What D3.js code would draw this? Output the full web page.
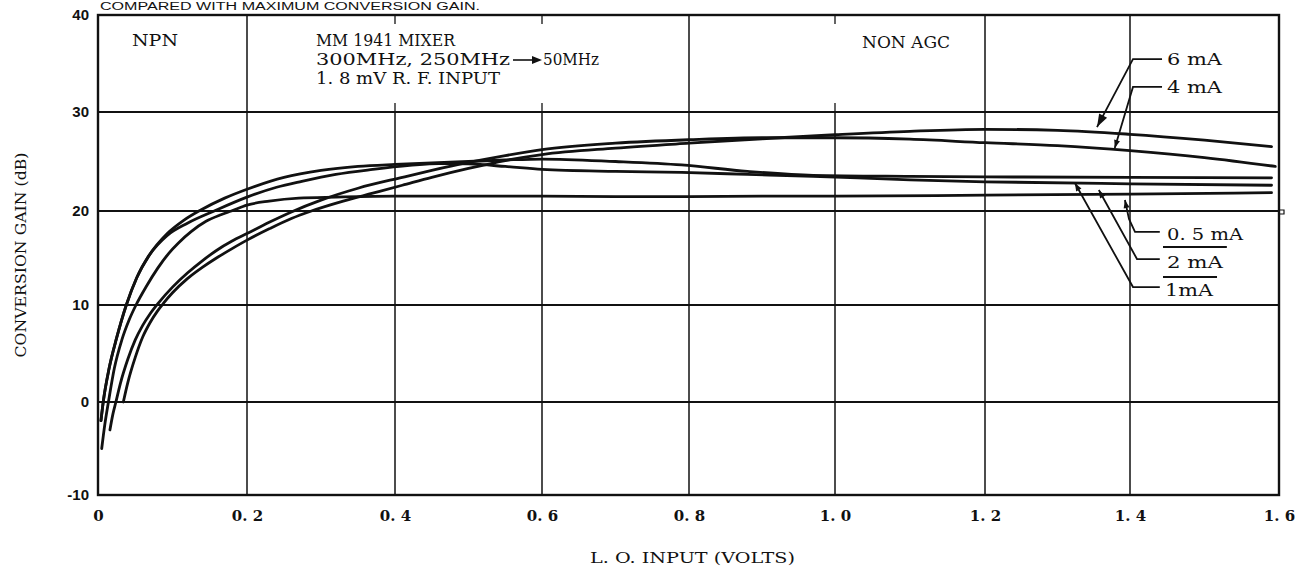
<!DOCTYPE html>
<html><head><meta charset="utf-8">
<script src="https://cdn.jsdelivr.net/npm/d3@7"></script>
<style>body{margin:0;background:#fff}svg{display:block}</style>
</head><body><svg id="c" width="1308" height="572"></svg>
<script>
// ---------- data ----------
const xTicks = [0, 0.2, 0.4, 0.6, 0.8, 1.0, 1.2, 1.4, 1.6];
const xTickLabels = ["0", "0. 2", "0. 4", "0. 6", "0. 8", "1. 0", "1. 2", "1. 4", "1. 6"];
const yTicks = [-10, 0, 10, 20, 30, 40];
const yTickLabels = ["-10", "0", "10", "20", "30", "40"];
const topBandLines = [0.2, 0.8, 1.2, 1.4];
const topBandStubs = [0.4, 0.6, 1.0];

const seriesNames = ["6 mA", "4 mA", "2 mA", "1mA", "0. 5 mA"];

const lo_6mA = [0.034, 0.04, 0.05, 0.06, 0.07, 0.08, 0.088, 0.1, 0.12, 0.14, 0.159, 0.18, 0.2, 0.23, 0.26, 0.287, 0.33, 0.37, 0.41, 0.45, 0.5, 0.55, 0.6, 0.7, 0.8, 0.9, 1.0, 1.1, 1.2, 1.3, 1.4, 1.5, 1.59];
const gain_6mA = [0, 2.0, 4.6, 6.7, 8.2, 9.4, 10.2, 11.3, 12.8, 14.0, 15.0, 16.0, 16.9, 18.1, 19.2, 20.0, 21.0, 21.8, 22.6, 23.4, 24.3, 25.1, 25.7, 26.35, 26.85, 27.3, 27.7, 28.05, 28.25, 28.15, 27.75, 27.15, 26.5];

const lo_4mA = [0.016, 0.02, 0.024, 0.03, 0.04, 0.05, 0.06, 0.07, 0.081, 0.1, 0.12, 0.14, 0.159, 0.18, 0.2, 0.23, 0.26, 0.3, 0.35, 0.41, 0.45, 0.5, 0.55, 0.6, 0.7, 0.8, 0.9, 1.0, 1.1, 1.2, 1.3, 1.4, 1.5, 1.595];
const gain_4mA = [-3, -1.3, 0, 1.9, 4.4, 6.4, 7.9, 9.1, 10.2, 11.9, 13.4, 14.7, 15.8, 16.8, 17.6, 18.8, 19.9, 21.1, 22.3, 23.4, 24.1, 24.9, 25.6, 26.2, 26.85, 27.2, 27.4, 27.4, 27.25, 26.9, 26.6, 26.1, 25.4, 24.5];

const lo_2mA = [0.004, 0.007, 0.015, 0.025, 0.038, 0.052, 0.068, 0.093, 0.12, 0.156, 0.2, 0.24, 0.274, 0.32, 0.37, 0.42, 0.46, 0.5, 0.55, 0.6, 0.7, 0.79, 0.88, 0.97, 1.1, 1.2, 1.4, 1.59];
const gain_2mA = [-2, 0, 3.5, 6.6, 10, 12.9, 15.2, 17.4, 18.7, 20.0, 21.4, 22.4, 23.0, 23.7, 24.2, 24.6, 24.8, 24.75, 24.5, 24.2, 24.0, 23.9, 23.7, 23.5, 23.15, 22.95, 22.75, 22.6];

const lo_1mA = [0.004, 0.007, 0.015, 0.025, 0.038, 0.052, 0.068, 0.093, 0.115, 0.138, 0.17, 0.2, 0.25, 0.3, 0.35, 0.4, 0.45, 0.5, 0.55, 0.6, 0.7, 0.79, 0.88, 0.97, 1.1, 1.2, 1.4, 1.59];
const gain_1mA = [-2, 0, 3.5, 6.6, 10, 12.9, 15.2, 17.6, 19.0, 20.1, 21.3, 22.2, 23.4, 24.1, 24.5, 24.7, 24.85, 25.0, 25.15, 25.25, 25.0, 24.65, 24.0, 23.6, 23.5, 23.45, 23.4, 23.35];

const lo_05mA = [0.005, 0.009, 0.014, 0.022, 0.032, 0.042, 0.051, 0.065, 0.08, 0.095, 0.108, 0.125, 0.145, 0.165, 0.179, 0.2, 0.23, 0.27, 0.32, 0.4, 0.5, 0.6, 0.7, 0.8, 0.9, 1.0, 1.2, 1.4, 1.59];
const gain_05mA = [-5, -2.5, 0, 3.5, 6.4, 8.5, 10, 12.0, 13.9, 15.5, 16.6, 17.8, 18.9, 19.6, 20.0, 20.6, 21.0, 21.3, 21.4, 21.5, 21.5, 21.5, 21.45, 21.45, 21.5, 21.5, 21.6, 21.7, 21.85];

// scanned-paper grid positions (the printed grid is slightly uneven)
const xGridPx = [98, 247, 395, 542, 689, 835, 985, 1130, 1279];
const yGridPx = [495, 402, 305, 211, 112, 15];

// annotation anchors in data units (volts, dB)
const labelPos = {"6 mA":[1.4497,34.85], "4 mA":[1.4497,31.96], "0. 5 mA":[1.4497,16.9], "2 mA":[1.4497,13.94], "1mA":[1.447,10.96]};
const leaders = {
  "6 mA":[[1.443,35.46],[1.404,35.46],[1.3545,28.48]],
  "4 mA":[[1.443,32.58],[1.404,32.58],[1.379,26.36]],
  "0. 5 mA":[[1.440,17.77],[1.4067,17.77],[1.3986,19.15],[1.393,21.11]],
  "2 mA":[[1.440,14.89],[1.4094,14.89],[1.357,22.12]],
  "1mA":[[1.440,11.91],[1.404,11.91],[1.324,22.83]]
};
const bars = [[[1.4443,16.17],[1.530,16.17]], [[1.4443,12.98],[1.5168,12.98]]];

// ---------- drawing ----------
const svg = d3.select("#c");
svg.append("rect").attr("width",1308).attr("height",572).attr("fill","#fff");
const x = d3.scaleLinear().domain(xTicks).range(xGridPx);
const y = d3.scaleLinear().domain(yTicks).range(yGridPx);
const ink = "#111";
const serif = "'DejaVu Serif', 'Liberation Serif', serif";

// grid
const g = svg.append("g").attr("stroke", ink).attr("fill","none");
[0,10,20,30].forEach(v => g.append("line").attr("x1",x(0)).attr("x2",x(1.6)).attr("y1",y(v)).attr("y2",y(v)).attr("stroke-width",1.8));
xTicks.slice(1,-1).forEach(t => {
  const top = topBandLines.includes(t) ? y(40) : y(30);
  g.append("line").attr("x1",x(t)).attr("x2",x(t)).attr("y1",top).attr("y2",y(-10)).attr("stroke-width",1.5);
});
topBandStubs.forEach(t => {
  g.append("line").attr("x1",x(t)).attr("x2",x(t)).attr("y1",y(40)).attr("y2",y(40)+9).attr("stroke-width",1.3);
  g.append("line").attr("x1",x(t)).attr("x2",x(t)).attr("y1",y(30)-9).attr("y2",y(30)).attr("stroke-width",1.3);
});
g.append("rect").attr("x",x(0)).attr("y",y(40)).attr("width",x(1.6)-x(0)).attr("height",y(-10)-y(40)).attr("stroke-width",2.4);
g.append("path").attr("d",`M${x(1.6)},${y(20)-1} h5 v4 h-4`).attr("stroke-width",1.2);

// axes labels
const yAxis = d3.axisLeft(y).tickValues(yTicks).tickFormat((d,i)=>yTickLabels[i]).tickSize(0).tickPadding(9);
const ya = svg.append("g").attr("transform",`translate(${x(0)},0)`).call(yAxis);
ya.select(".domain").remove();
ya.selectAll("text").attr("font-family","'Liberation Sans', Arial, sans-serif").attr("font-weight","bold").attr("font-size",15).attr("fill",ink);

const xAxis = d3.axisBottom(x).tickValues(xTicks).tickFormat((d,i)=>xTickLabels[i]).tickSize(0).tickPadding(15);
const xa = svg.append("g").attr("transform",`translate(0,${y(-10)})`).call(xAxis);
xa.select(".domain").remove();
xa.selectAll("text").attr("font-family",serif).attr("font-weight","bold").attr("font-size",15).attr("fill",ink);

function txt(s, x0, base, len, size, opts={}) {
  const t = svg.append("text").attr("x",x0).attr("y",base).text(s)
    .attr("font-family",opts.family||serif).attr("font-size",size).attr("fill",ink);
  if (len) t.attr("textLength",len).attr("lengthAdjust","spacingAndGlyphs");
  if (opts.weight) t.attr("font-weight",opts.weight);
  return t;
}

// titles
svg.append("text").attr("transform",`translate(26,${(y(40)+y(-10))/2}) rotate(-90)`)
  .attr("text-anchor","middle").attr("font-family",serif).attr("font-size",15).attr("fill",ink)
  .attr("textLength",205).attr("lengthAdjust","spacingAndGlyphs").text("CONVERSION GAIN (dB)");
svg.append("text").attr("x",590).attr("y",563).attr("font-family",serif).attr("font-size",15).attr("fill",ink)
  .attr("textLength",205).attr("lengthAdjust","spacingAndGlyphs").text("L. O. INPUT (VOLTS)");
txt("COMPARED WITH MAXIMUM CONVERSION GAIN.", 100, 10, 380, 10, {family:"'Liberation Sans', Arial, sans-serif"});

// inside text
txt("NPN", 132, 46, 46, 16);
txt("MM 1941 MIXER", 316, 46, 139, 16);
txt("300MHz, 250MHz", 316, 65, 194, 16);
txt("50MHz", 543, 65, 56, 16);
txt("1. 8 mV R. F. INPUT", 316, 84, 184, 16);
txt("NON AGC", 862, 48, 88, 16);
svg.append("line").attr("x1",513).attr("x2",534).attr("y1",60).attr("y2",60).attr("stroke",ink).attr("stroke-width",1.6);
svg.append("path").attr("d","M542,60 L532,56 L532,64 Z").attr("fill",ink);

// curves
const line = d3.line().x(d=>x(d[0])).y(d=>y(d[1])).curve(d3.curveMonotoneX);
const series = [
  [lo_6mA, gain_6mA], [lo_4mA, gain_4mA], [lo_2mA, gain_2mA], [lo_1mA, gain_1mA], [lo_05mA, gain_05mA]
];
svg.append("g").selectAll("path").data(series).join("path")
  .attr("d", s => line(s[0].map((v,i)=>[v, s[1][i]])))
  .attr("fill","none").attr("stroke",ink).attr("stroke-width",2.8).attr("stroke-linecap","round");

// legend labels + leaders
const labelLen = {"6 mA":55, "4 mA":55, "0. 5 mA":76, "2 mA":56, "1mA":48};
seriesNames.forEach(n => {
  const p = labelPos[n];
  txt(n, x(p[0]), y(p[1]), labelLen[n], 17);
  const pts = leaders[n].map(d=>[x(d[0]), y(d[1])]);
  svg.append("path").attr("d", d3.line()(pts)).attr("fill","none").attr("stroke",ink).attr("stroke-width",1.8);
  const tip = pts[pts.length-1], from = pts[pts.length-2];
  const a = Math.atan2(tip[1]-from[1], tip[0]-from[0]);
  const L = n==="6 mA" ? 13 : 8, W = n==="6 mA" ? 4.5 : 3;
  const bx = tip[0]-L*Math.cos(a), by = tip[1]-L*Math.sin(a);
  svg.append("path").attr("d",`M${tip[0]},${tip[1]} L${bx+W*Math.sin(a)},${by-W*Math.cos(a)} L${bx-W*Math.sin(a)},${by+W*Math.cos(a)} Z`).attr("fill",ink);
});
bars.forEach(b => svg.append("line").attr("x1",x(b[0][0])).attr("x2",x(b[1][0])).attr("y1",y(b[0][1])).attr("y2",y(b[1][1])).attr("stroke",ink).attr("stroke-width",1.8));
</script>
</body></html>
